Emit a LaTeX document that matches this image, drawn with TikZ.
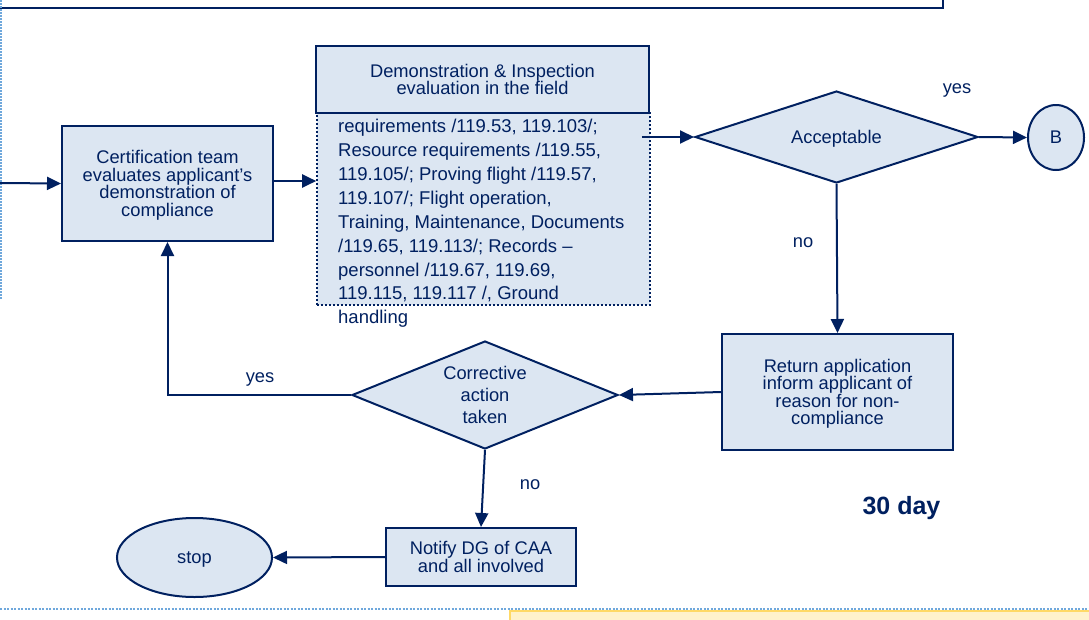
\documentclass[tikz,border=0pt]{standalone}
\usepackage{fontspec}
\setmainfont{Liberation Sans}
\usetikzlibrary{shapes.geometric}
\usetikzlibrary{arrows.meta}
\definecolor{navy}{RGB}{0,32,96}
\definecolor{boxfill}{RGB}{220,230,242}
\definecolor{dotblue}{RGB}{111,168,220}
\definecolor{notefill}{RGB}{255,242,204}
\definecolor{noteline}{RGB}{255,217,102}
\tikzset{
	box/.style={draw=navy, fill=boxfill, line width=2pt, inner sep=0pt, align=center, text=navy, text depth=0pt, font=\fontsize{18.3}{17.5}\selectfont},
	decision/.style={box, shape=diamond, aspect=2.5},
	terminal/.style={box, shape=ellipse},
	tag/.style={text=navy, inner sep=0pt, text depth=0pt, font=\fontsize{18.3}{20}\selectfont},
	flow/.style={draw=navy, line width=2pt, ->, >={Triangle[length=14pt,width=13pt]}}
}

\begin{document}
\begin{tikzpicture}[x=1pt, y=-1pt]
		\useasboundingbox (0,0) rectangle (1089,619);
		\clip (0,0) rectangle (1089,619);
		\draw[navy, line width=2pt, fill=white] (-10,-30) rectangle (943,7.5);
		\draw[dotblue, line width=1.5pt, dash pattern=on 1.5pt off 1.5pt] (1,0) -- (1,300);
		\draw[dotblue, line width=2pt, dash pattern=on 2pt off 1.5pt] (0,609) -- (1089,609);
		\draw[noteline, line width=1.5pt, fill=notefill] (510,611) rectangle (1100,640);
		\coordinate (in) at (0,183);
		\node[box, minimum width=211pt, minimum height=115pt] (cert) at (167.5,183.5) {Certification team\\evaluates applicant’s\\demonstration of\\compliance};
		\node[box, dotted, line width=1.6pt, minimum width=333pt, minimum height=192pt] (demobody) at (483.5,209) {};
		\node[box, minimum width=333pt, minimum height=67pt] (demohead) at (482.5,79.5) {Demonstration \& Inspection\\evaluation in the field};
		\node[anchor=north west, align=left, inner sep=0pt, text=navy, font=\fontsize{18.5}{23.9}\selectfont] (demotext) at (338,119) {requirements /119.53, 119.103/;\\Resource requirements /119.55,\\119.105/; Proving flight /119.57,\\119.107/; Flight operation,\\Training, Maintenance, Documents\\/119.65, 119.113/; Records –\\personnel /119.67, 119.69,\\119.115, 119.117 /, Ground\\handling};
		\node[decision, minimum width=283pt, minimum height=92pt] (acc) at (836.5,137) {Acceptable};
		\node[terminal, minimum width=56pt, minimum height=65pt] (B) at (1056,137.5) {B};
		\node[box, minimum width=231pt, minimum height=116pt] (ret) at (837.5,392) {Return application\\inform applicant of\\reason for non-\\compliance};
		\node[decision, font=\fontsize{18.3}{21.7}\selectfont, minimum width=266pt, minimum height=108pt] (corr) at (485,395) {Corrective\\action\\taken};
		\node[box, minimum width=190pt, minimum height=58pt] (notify) at (481,557) {Notify DG of CAA\\and all involved};
		\node[terminal, minimum width=155pt, minimum height=79pt] (stop) at (194.5,557.5) {stop};
		\node[tag] (yes1) at (957,89) {yes};
		\node[tag] (no1) at (803,243) {no};
		\node[tag] (yes2) at (260,378) {yes};
		\node[tag] (no2) at (530,485) {no};
		\node[tag, font=\bfseries\fontsize{25}{28}\selectfont] (days) at (901.5,505) {30 day};
		\path (in) edge[flow] (cert.west);
		\path ([yshift=2.5pt]cert.east) edge[flow] ([yshift=2.5pt]cert.east -| demobody.west);
		\path ([xshift=-9pt]demobody.east |- acc.west) edge[flow] (acc.west);
		\path (acc.east) edge[flow] (B.west);
		\path (acc.south) edge[flow] (ret.north);
		\path (ret.west) edge[flow] (corr.east);
		\draw[flow] (corr.west) -| (cert.south);
		\path (corr.south) edge[flow] (notify.north);
		\path (notify.west) edge[flow] (stop.east);
	\end{tikzpicture}
\end{document}
